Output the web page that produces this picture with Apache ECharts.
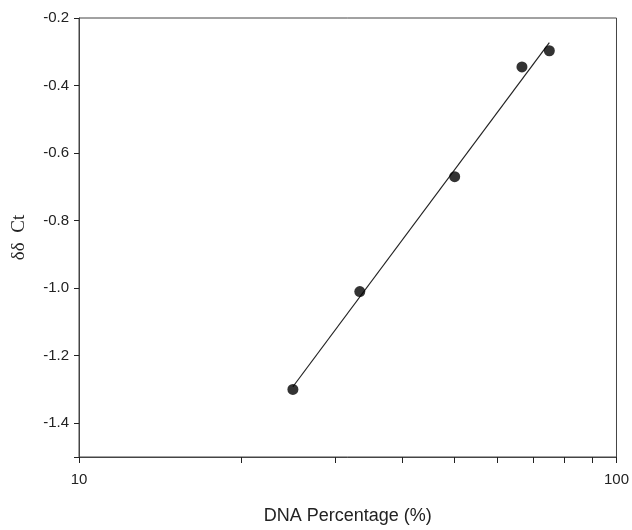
<!DOCTYPE html>
<html>
<head>
<meta charset="utf-8">
<script src="https://cdn.jsdelivr.net/npm/echarts@6/dist/echarts.min.js"></script>
<style>
  html, body { margin: 0; padding: 0; background: #fff; }
  #chart { width: 632px; height: 530px; }
</style>
</head>
<body>
<div id="chart"></div>
<script>
// measured points (DNA %, ddCt)
var dnaPct = [25, 33.3, 50, 66.7, 75];
var ddCt = [-1.30, -1.01, -0.67, -0.345, -0.297];

// fitted line ends
var fitX = [25, 75];
var fitY = [-1.292, -0.273];

// tick positions
var xTicks = [10, 20, 30, 40, 50, 60, 70, 80, 90, 100];
var xLabels = [10, 100];
var yTicks = [-1.5, -1.4, -1.2, -1.0, -0.8, -0.6, -0.4, -0.2];
var yLabels = [-1.4, -1.2, -1.0, -0.8, -0.6, -0.4, -0.2];

var ink = '#222';

var chart = echarts.init(document.getElementById('chart'));

var pts = [];
for (var i = 0; i < dnaPct.length; i++) {
    pts.push([dnaPct[i], ddCt[i]]);
}
var fit = [];
for (var j = 0; j < fitX.length; j++) {
    fit.push([fitX[j], fitY[j]]);
}

chart.setOption({
    animation: false,
    backgroundColor: '#fff',
    grid: {
        left: 79, right: 14, top: 18, bottom: 70,
        show: true, borderColor: '#444', borderWidth: 1
    },
    xAxis: {
        type: 'log',
        logBase: 10,
        min: 10,
        max: 100,
        name: 'DNA Percentage (%)',
        nameLocation: 'middle',
        nameGap: 50,
        nameTextStyle: { fontFamily: 'Liberation Sans', fontSize: 18, color: ink },
        axisLine: { show: true, lineStyle: { color: '#444', width: 1 } },
        axisTick: {
            show: true, inside: false, length: 6,
            lineStyle: { color: ink },
            customValues: xTicks
        },
        axisLabel: {
            show: true, margin: 15,
            fontFamily: 'Liberation Sans', fontSize: 15, color: ink,
            customValues: xLabels
        },
        splitLine: { show: false },
        minorTick: { show: false }
    },
    yAxis: {
        type: 'value',
        min: -1.5,
        max: -0.2,
        name: 'δδ  Ct',
        nameLocation: 'middle',
        nameGap: 50,
        nameTextStyle: { fontFamily: 'Liberation Serif', fontSize: 19, color: ink },
        axisLine: { show: true, lineStyle: { color: '#444', width: 1 } },
        axisTick: {
            show: true, inside: false, length: 5,
            lineStyle: { color: ink },
            customValues: yTicks
        },
        axisLabel: {
            show: true, margin: 10,
            fontFamily: 'Liberation Sans', fontSize: 15, color: ink,
            formatter: function (v) { return v.toFixed(1); },
            customValues: yLabels
        },
        splitLine: { show: false }
    },
    series: [
        {
            type: 'line',
            data: fit,
            symbol: 'none',
            lineStyle: { color: ink, width: 1.2 },
            z: 2
        },
        {
            type: 'scatter',
            data: pts,
            symbol: 'circle',
            symbolSize: 11,
            itemStyle: { color: '#000' },
            z: 3
        }
    ]
});
</script>
</body>
</html>
